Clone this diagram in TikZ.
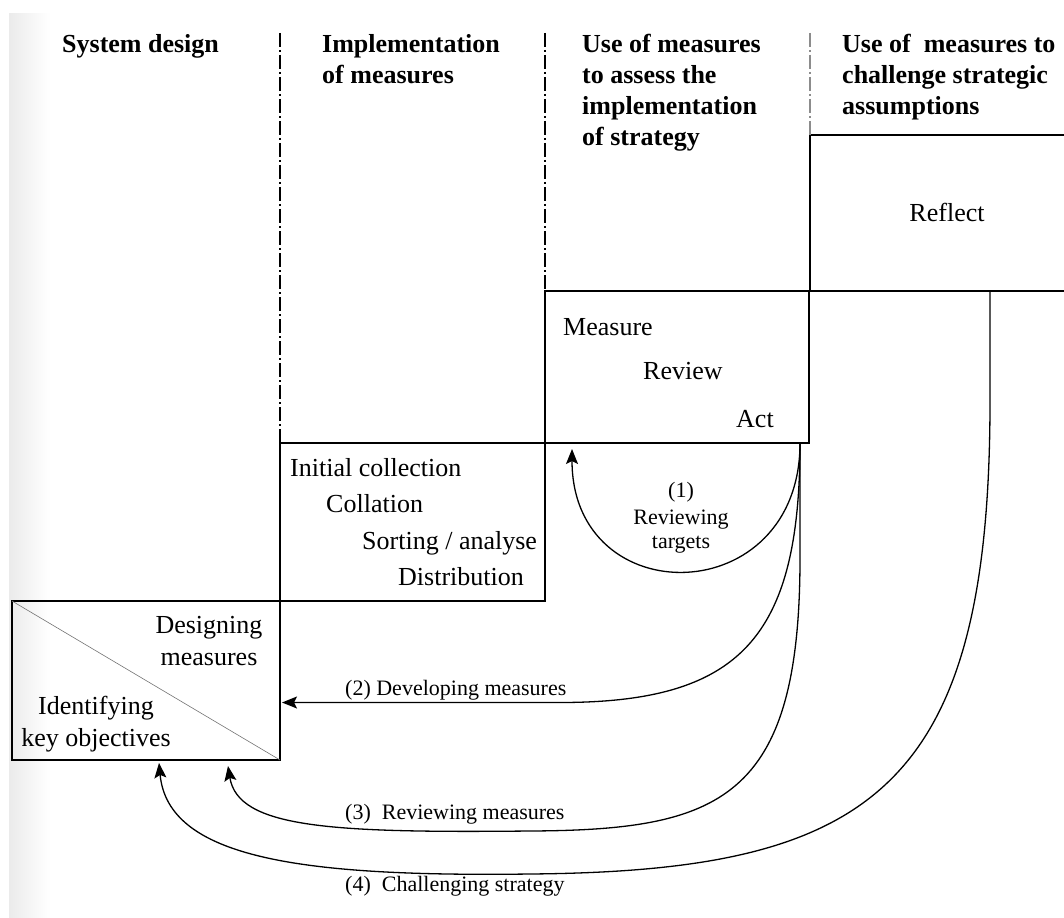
\documentclass[tikz,border=0pt]{standalone}
\usepackage{fontspec}
\setmainfont{Liberation Serif}
\usetikzlibrary{arrows.meta,calc}
\begin{document}
\begin{tikzpicture}[x=1pt,y=-1pt,
  box/.style={draw=black, line width=1.5pt, inner sep=0pt, outer sep=0pt, anchor=north west},
  divider/.style={line width=1.4pt, dash pattern=on 14pt off 3pt on 2pt off 3pt},
  head/.style={font=\fontsize{26}{30.7}\selectfont\bfseries, align=left, anchor=base west, inner sep=0pt},
  txt/.style={font=\fontsize{26}{32}\selectfont, inner sep=0pt},
  lbl/.style={font=\fontsize{22}{27}\selectfont, inner sep=0pt},
  flow/.style={line width=1.3pt, -{Stealth[length=15pt,width=12pt,inset=3pt]}},
]
\useasboundingbox (0,0) rectangle (1064,917);
% faint shadow along the left edge of the sheet
\shade[left color=black!8, right color=white, draw=none] (9,14) rectangle (50,917);

% staircase of boxes
\node[box, minimum width=268pt, minimum height=159pt] (design) at (12,601) {};
\node[box, minimum width=265pt, minimum height=158pt] (collect) at (280,443) {};
\node[box, minimum width=264pt, minimum height=152pt] (measure) at (545,291) {};
\node[box, minimum width=290pt, minimum height=156pt] (reflect) at (810,135) {};
\draw[line width=0.6pt, black!55] (design.north west) -- (design.south east);

% column dividers
\coordinate (d1) at (280,33);
\coordinate (d2) at (545,33);
\coordinate (d3) at (810,33);
\draw[divider] (d1) -- (collect.north west);
\draw[divider] (d2) -- (measure.north west);
\draw[divider, black!45] (d3) -- (reflect.north west);

% column headings (anchored at the baseline of their last line)
\node[head] (h1) at (62,53) {System design};
\node[head] (h2) at (322,83.7) {Implementation\\of measures};
\node[head] (h3) at (582,145.1) {Use of measures\\to assess the\\implementation\\of strategy};
\node[head] (h4) at (842,114.4) {Use of\ \ measures to\\challenge strategic\\assumptions};

% box contents
\node[txt, anchor=base] (rf) at (947,222) {Reflect};
\node[txt, anchor=base west] (m1) at (563,335) {Measure};
\node[txt, anchor=base west] (m2) at (643,379) {Review};
\node[txt, anchor=base west] (m3) at (736,427) {Act};
\node[txt, anchor=base west] (c1) at (290,476) {Initial collection};
\node[txt, anchor=base west] (c2) at (326,512) {Collation};
\node[txt, anchor=base west] (c3) at (362,549) {Sorting / analyse};
\node[txt, anchor=base west] (c4) at (398,585) {Distribution};
\node[txt, align=center, anchor=base] (dm) at (209,665) {Designing\\measures};
\node[txt, align=center, anchor=base] (ko) at (96,746) {Identifying\\key objectives};

% feedback loops
\coordinate (s1) at ([xshift=-9pt]measure.south east);
\coordinate (s4) at ([xshift=180pt]reflect.south west);
\coordinate (t1) at ([xshift=27pt,yshift=-6pt]measure.south west);
\coordinate (t2) at ([xshift=2pt,yshift=-22pt]design.east);
\coordinate (t3) at ([xshift=-52pt,yshift=-6pt]design.south east);
\coordinate (t4) at ([xshift=147pt,yshift=-3pt]design.south west);

\draw[flow] (s1) .. controls ($(s1)+(0,168)$) and ($(t1)+(0,165)$) .. (t1);
\draw[flow] (s1) .. controls ($(s1)+(0,195)$) and ($(t2)+(458,0)$) .. ($(t2)+(278,0)$) -- (t2);
\draw[flow] (s1) -- ($(s1)+(0,115)$) .. controls ($(s1)+(0,357)$) and (720,830) .. (530,831)
  .. controls (330,833) and (238,828) .. (t3);
\draw[flow] (s4) -- ($(s4)+(0,110)$) .. controls ($(s4)+(0,500)$) and (870,871) .. (530,874)
  .. controls (300,877) and (168,858) .. (t4);

% loop labels
\node[lbl, anchor=base] (l1a) at (681,497) {(1)};
\node[lbl, anchor=base] (l1b) at (681,524) {Reviewing};
\node[lbl, anchor=base] (l1c) at (681,548) {targets};
\node[lbl, anchor=base west] (l2) at (345,695) {(2) Developing measures};
\node[lbl, anchor=base west] (l3) at (345,819) {(3)\ \ Reviewing measures};
\node[lbl, anchor=base west] (l4) at (345,891) {(4)\ \ Challenging strategy};
\end{tikzpicture}
\end{document}
